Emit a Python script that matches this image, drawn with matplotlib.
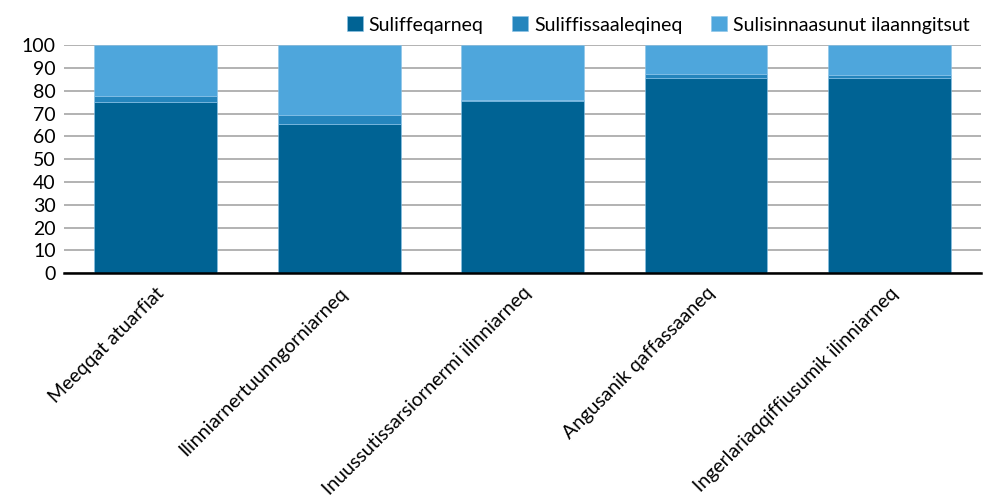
import matplotlib
matplotlib.use('Agg')
import matplotlib.pyplot as plt
import numpy as np

plt.rcParams['font.family'] = ['Lato', 'DejaVu Sans']

categories = ['Meeqqat atuarfiat', 'Ilinniarnertuunngorniarneq',
              'Inuussutissarsiornermi ilinniarneq', 'Angusanik qaffassaaneq',
              'Ingerlariaqqiffiusumik ilinniarneq']
series_names = ['Suliffeqarneq', 'Suliffissaaleqineq', 'Sulisinnaasunut ilaanngitsut']
employed = [75.1, 65.5, 75.7, 85.7, 85.7]
unemployed = [2.8, 3.9, 0.5, 1.7, 1.4]
outside = [22.1, 30.6, 23.8, 12.6, 12.9]
colors = ['#006394', '#2485bd', '#4ea6dc']

fig = plt.figure(figsize=(9.86, 5.04), dpi=100)
ax = fig.add_axes([0.065, 0.458, 0.93, 0.452])

x = np.arange(len(categories))
bottom = np.zeros(len(categories))
for vals, name, c in zip([employed, unemployed, outside], series_names, colors):
    ax.bar(x, vals, width=0.67, bottom=bottom, color=c, label=name,
           edgecolor='#8cc4e8', linewidth=0.4, zorder=3)
    bottom += np.array(vals)

ax.set_xlim(-0.5, len(categories) - 0.5)
ax.set_ylim(0, 100)
ax.set_yticks(range(0, 101, 10))
ax.yaxis.grid(True, color='#a6a6a6', linewidth=1.2, zorder=0)
ax.set_axisbelow(True)
for s in ['left', 'right', 'top']:
    ax.spines[s].set_visible(False)
ax.spines['bottom'].set_color('black')
ax.spines['bottom'].set_linewidth(1.8)
ax.spines['bottom'].set_zorder(4)
ax.tick_params(axis='y', length=0, labelsize=14, pad=6)
ax.tick_params(axis='x', length=0, labelsize=14, pad=8)
ax.set_xticks(x)
ax.set_xticklabels(categories, rotation=45, ha='right', rotation_mode='anchor')

ax.legend(loc='lower right', bbox_to_anchor=(1.0, 1.0), ncol=3, frameon=False,
          fontsize=14, handlelength=0.8, handleheight=0.8, handletextpad=0.3,
          columnspacing=1.5, borderaxespad=0.2)

fig.savefig('out.png', dpi=100)
